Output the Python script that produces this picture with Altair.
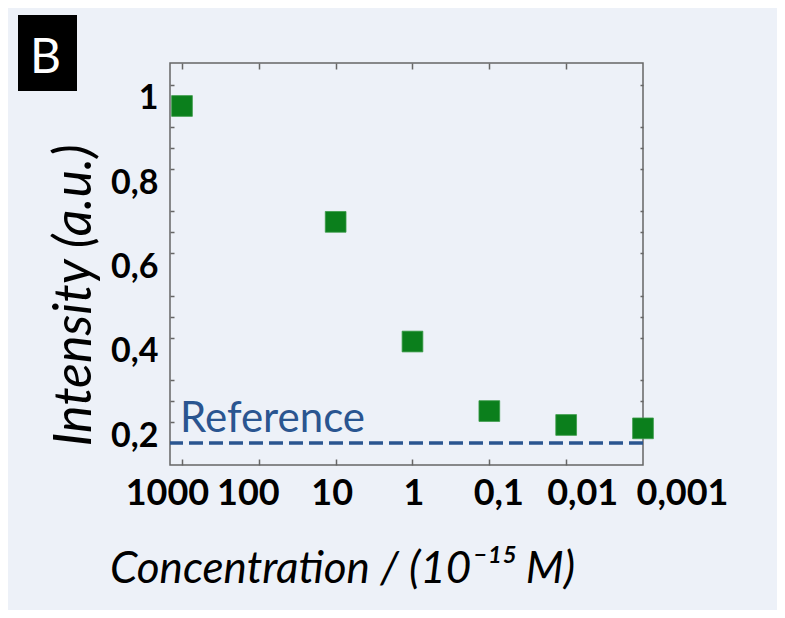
import altair as alt
import pandas as pd

# ---- data ----
concentration = [1000, 10, 1, 0.1, 0.01, 0.001]
intensity = [1.0, 0.725, 0.441, 0.276, 0.243, 0.235]
reference_level = 0.2
reference_label = "Reference"

x_tick_values = [1000, 100, 10, 1, 0.1, 0.01, 0.001]
y_tick_values = [0.2, 0.25, 0.3, 0.35, 0.4, 0.45, 0.5, 0.55, 0.6, 0.65,
                 0.7, 0.75, 0.8, 0.85, 0.9, 0.95, 1.0, 1.05]
x_label_shift = [-15, -11, -4, 1, 9, 16, 39]

panel_letter = "B"
x_title = "Concentration / (10\u207b\u00b9\u2075 M)"
y_title = "Intensity (a.u.)"

# ---- styling ----
BG = "#edf1f8"
FRAME = "#666666"
GREEN = "#0b7f1c"
BLUE = "#2a5590"
FONT = "Lato"
W, H = 473, 402

points_df = pd.DataFrame({"conc": concentration, "intensity": intensity})
ref_df = pd.DataFrame({"x": [1000], "y": [reference_level], "label": [reference_label]})
one = pd.DataFrame({"k": [0]})

xscale = alt.Scale(type="log", domain=[0.001, 1432], reverse=True, nice=False)
yscale = alt.Scale(domain=[0.148, 1.102], nice=False, zero=False)

major_test = "abs(datum.value*5 - round(datum.value*5)) < 0.001"

label_offset_conditions = [
    {"test": f"abs(log(datum.value)/log(10) - ({e})) < 0.1", "value": d}
    for e, d in zip([3, 2, 1, 0, -1, -2, -3], x_label_shift)
]

x_bottom = alt.Axis(
    orient="bottom", values=x_tick_values, domain=False, grid=False,
    offset=-6, tickSize=6, tickColor=FRAME, tickWidth=1.5,
    tickOpacity={"condition": {"test": "datum.value < 0.005", "value": 0}, "value": 1},
    labelExpr="replace(format(datum.value, '.3~f'), '.', ',')",
    labelFont=FONT, labelFontSize=36, labelFontWeight="bold", labelColor="black",
    labelPadding=11, labelFlush=False, labelOverlap=False,
    labelOffset={"condition": label_offset_conditions, "value": 0},
    title=x_title, titleFont=FONT, titleFontSize=44, titleFontStyle="italic",
    titleFontWeight="normal", titleColor="black",
    titleX=172, titleY=123, titleAlign="center", titleBaseline="alphabetic",
)

y_left = alt.Axis(
    orient="left", values=y_tick_values, domain=False, grid=False,
    offset=-4, tickSize=4, tickColor=FRAME, tickWidth=1.5,
    tickOpacity={"condition": {"test": major_test, "value": 0}, "value": 1},
    labelExpr=f"{major_test} ? replace(format(datum.value, '.1~f'), '.', ',') : ''",
    labelFont=FONT, labelFontSize=34, labelFontWeight="bold", labelColor="black",
    labelPadding=12, labelBaseline="alphabetic", labelOffset=3,
    labelFlush=False, labelOverlap=False,
    title=y_title, titleFont=FONT, titleFontSize=52, titleFontStyle="italic",
    titleFontWeight="normal", titleColor="black", titleAngle=-90,
    titleX=-100, titleY=232, titleAlign="center", titleBaseline="middle",
)

x_top = alt.Axis(
    orient="top", values=x_tick_values[:-1], domain=False, grid=False, labels=False,
    offset=-6, tickSize=6, tickColor=FRAME, tickWidth=1.5, title=None,
)

y_right = alt.Axis(
    orient="right", values=y_tick_values, domain=False, grid=False, labels=False,
    offset=-3, tickSize=3, tickColor=FRAME, tickWidth=1.5, title=None,
    tickOpacity={"condition": {"test": major_test, "value": 0}, "value": 1},
)

rule = alt.Chart(ref_df).mark_rule(
    color=BLUE, strokeWidth=3.5, strokeDash=[14, 6]
).encode(y=alt.Y("y:Q", scale=yscale, axis=None))

points = alt.Chart(points_df).mark_square(
    size=430, color=GREEN, opacity=1, stroke="#3a9a48", strokeWidth=0.8
).encode(
    x=alt.X("conc:Q", scale=xscale, axis=x_bottom),
    y=alt.Y("intensity:Q", scale=yscale, axis=y_left),
)

ref_text = alt.Chart(ref_df).mark_text(
    align="left", baseline="alphabetic", dx=-2, dy=-11,
    font=FONT, fontSize=42, color=BLUE
).encode(
    x=alt.X("x:Q", scale=xscale, axis=x_top),
    y=alt.Y("y:Q", scale=yscale, axis=y_right),
    text="label:N",
)

box = alt.Chart(one).mark_rect(color="black").encode(
    x=alt.value(-152), x2=alt.value(-93), y=alt.value(-48), y2=alt.value(28)
)
letter = alt.Chart(one).mark_text(
    align="left", baseline="alphabetic", font=FONT, fontSize=48, color="white"
).encode(x=alt.value(-140), y=alt.value(10), text=alt.value(panel_letter))

chart = alt.layer(points, ref_text, rule, box, letter).properties(
    width=W, height=H,
    autosize=alt.AutoSizeParams(type="none"),
    padding={"left": 162, "top": 55, "right": 134, "bottom": 145},
    background=BG,
).configure_view(stroke=FRAME, strokeWidth=1.5)

chart.save("out.html", embed_options={"renderer": "svg", "actions": False})
